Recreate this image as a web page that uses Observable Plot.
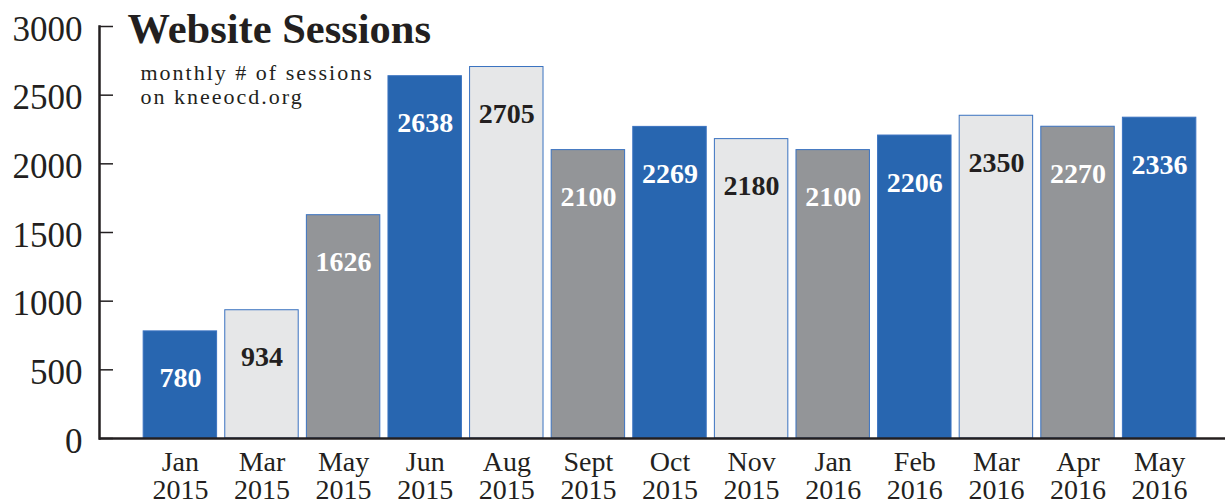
<!DOCTYPE html>
<html>
<head>
<meta charset="utf-8">
<script src="https://cdn.jsdelivr.net/npm/d3@7"></script>
<script src="https://cdn.jsdelivr.net/npm/@observablehq/plot@0.6"></script>
<style>
  html, body { margin: 0; padding: 0; background: #fff; }
  svg { display: block; }
  .subtitle text { letter-spacing: 2px; }
</style>
</head>
<body>
<div id="chart"></div>
<script>
const months = ["Jan\n2015","Mar\n2015","May\n2015","Jun\n2015","Aug\n2015","Sept\n2015","Oct\n2015","Nov\n2015","Jan\n2016","Feb\n2016","Mar\n2016","Apr\n2016","May\n2016"];
const sessions = [780, 934, 1626, 2638, 2705, 2100, 2269, 2180, 2100, 2206, 2350, 2270, 2336];
const shades = ["blue","light","dark","blue","light","dark","blue","light","dark","blue","light","dark","blue"];
const yTicks = [0, 500, 1000, 1500, 2000, 2500, 3000];
const title = "Website Sessions";
const subtitle = "monthly # of sessions\non kneeocd.org";

const fills = {blue: "#2866b0", light: "#e6e7e8", dark: "#939598"};
const labelColors = {blue: "#ffffff", light: "#231f20", dark: "#ffffff"};
const data = months.map((m, i) => ({month: m, value: sessions[i], shade: shades[i]}));
const ink = "#231f20";
const font = "'Liberation Serif', 'DejaVu Serif', serif";

const chart = Plot.plot({
  width: 1225,
  height: 504,
  marginTop: 26,
  marginBottom: 66,
  marginLeft: 99,
  marginRight: 0,
  style: {fontFamily: font, color: ink, background: "#fff"},
  x: {domain: months, range: [135, 1204], padding: 0.1, round: false, label: null},
  y: {domain: [0, 3000], label: null},
  marks: [
    Plot.barY(data, {
      x: "month", y: "value",
      fill: d => fills[d.shade],
      stroke: "#3a72c0", strokeWidth: 1
    }),
    Plot.text(data, {
      x: "month", y: "value", text: d => String(d.value),
      dy: 47, lineAnchor: "middle",
      fill: d => labelColors[d.shade],
      fontSize: 28, fontWeight: "bold"
    }),
    Plot.axisY({
      ticks: yTicks, tickSize: -14, tickFormat: () => "",
      stroke: ink, strokeWidth: 1.5, label: null
    }),
    Plot.axisY({
      ticks: yTicks, tickSize: 0, tickPadding: 17, dy: 3,
      fontSize: 35, fill: ink,
      tickFormat: d => String(d), label: null
    }),
    Plot.axisX({
      tickSize: 0, tickPadding: 13, fontSize: 28, lineHeight: 1.0,
      fill: ink, label: null
    }),
    Plot.frame({anchor: "left", stroke: ink, strokeWidth: 2.5}),
    Plot.ruleY([0], {stroke: ink, strokeWidth: 2.5}),
    Plot.text([title], {
      frameAnchor: "top-left", dx: 28, dy: 16, lineAnchor: "bottom",
      textAnchor: "start", fontSize: 42.5, fontWeight: "bold", fill: ink
    }),
    Plot.text([subtitle], {
      frameAnchor: "top-left", dx: 41, dy: 77, lineAnchor: "bottom",
      textAnchor: "start", fontSize: 22, lineHeight: 1.08, fill: ink,
      className: "subtitle"
    })
  ]
});
document.getElementById("chart").appendChild(chart);
</script>
</body>
</html>
